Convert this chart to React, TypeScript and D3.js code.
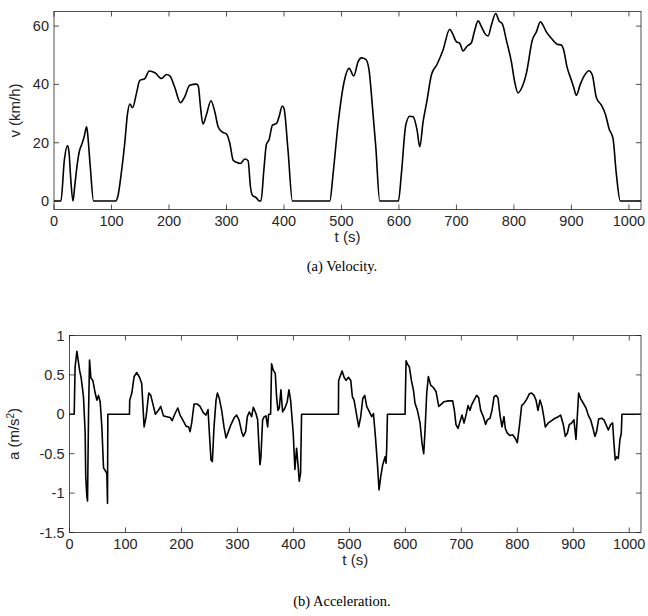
import React from "react";
import * as d3 from "d3";

// velocity profile (t in s, v in km/h)
const velTime = [
  0, 12, 18, 23.6, 26, 29, 33, 36, 40, 44, 49, 53, 56.6, 58, 63, 68.8,
  107, 111.5, 117, 123, 127.9, 132, 136.6, 143.5, 149, 158, 165.6, 175.5, 187, 195.7, 201.5,
  210, 220, 227.5, 236, 248, 251, 254.8, 259, 265, 273, 279.7, 285.5, 292.5, 300, 305.8,
  311.6, 317.4, 324, 332, 337.6, 341.7, 345, 352, 357, 360, 365, 369.5, 374, 380, 387,
  391.5, 397, 400, 407, 414.7,
  479.7, 485.5, 494.2, 504, 513.3, 521.4, 529, 534.7, 542.3, 548, 553.9, 559.7, 566.6,
  599, 604.3, 611.8, 618.8, 624.6, 631.5, 636.2, 642, 648.9, 656.4, 666.3, 676.7, 688.3,
  693, 700, 705.7, 711.5, 718.4, 726, 731.8, 737.6, 743.4, 749.2, 755, 760.7, 768.3, 774,
  780, 786.8, 795.5, 801.3, 807, 813, 821.6, 832, 839, 846, 849.4, 856.4, 865, 875, 882.4,
  886.5, 892.3, 899.8, 903.9, 908.5, 915.5, 923, 930.5, 936.3, 943.3, 952, 959.5, 965.3,
  972.3, 978, 985, 1021,
];
const velKmh = [
  0, 0, 14, 19, 17, 8, 0, 5, 12, 17, 19.8, 22.5, 25.5, 24, 12, 0,
  0, 2, 9.5, 19.8, 30, 33.3, 32, 37, 41.3, 42, 44.6, 44, 42, 43.4, 42.9,
  39, 33.7, 35.8, 39.7, 40.1, 39.4, 32.3, 26.4, 29.5, 34.4, 30.6, 25.5, 23.7, 23, 19.8,
  14, 13.3, 12.9, 14.4, 13.8, 4.9, 2, 1.1, 0, 0, 10.6, 19.5, 21, 26, 26.6,
  28.9, 32.6, 31.8, 17.5, 0,
  0, 9.5, 26.6, 40.3, 45.5, 42.9, 47.8, 49.1, 48.6, 44.9, 32.3, 18.6, 0,
  0, 9.5, 26, 29.1, 28.9, 24.3, 18.6, 27.2, 34.6, 43.2, 46.9, 51.8, 58.9,
  57.5, 54.6, 54.1, 51.5, 53.1, 54.3, 58.6, 61.8, 59.8, 57.5, 56.6, 60.3, 64.3, 61.8,
  60.7, 55.2, 47.8, 40.9, 37.1, 38.6, 43.8, 55.2, 58, 61.5, 60.7, 58, 55.8, 53.8, 53.5,
  51.8, 46, 41.5, 39, 36.3, 40.1, 43.2, 44.7, 43.2, 35.5, 32.9, 29.5, 24.9,
  21.5, 9.5, 0, 0,
];

// acceleration (t in s, a in m/s^2)
const accTime = [
  0, 8.4, 10, 13.2, 18, 20.9, 25, 28, 29, 31, 32.2, 34, 35.8, 38.2, 41.7, 45.9, 48.9,
  51.8, 54.8, 57.8, 60.8, 64.3, 66.7, 67.9, 68.5,
  107.1, 107.6, 111.3, 115.5, 120.2, 125, 129, 133.3, 136.9, 141.6, 145.2, 150, 153.5,
  158.9, 163, 167.8, 173.7, 179.7, 183.3, 188.6, 193.4, 197.5, 202.3, 208.2, 213, 215.4,
  218.3, 222.5, 228.5, 233.2, 239, 243.9, 247.5, 249.9, 252.8, 255.2, 258.2, 261.8, 264.2,
  267.7, 271.9, 276, 279.6, 283.8, 288.5, 294.5, 298.6, 302.8, 307.6, 310.5, 314.7, 317.7,
  321.2, 325.4, 328.4, 333.1, 336.1, 338.5, 340.3, 342, 345, 348, 351, 354, 355.7, 359.3,
  361.1, 364, 367.6, 370, 372.4, 374.8, 377.7, 380.7, 384.9, 389, 392, 395, 399.7, 402.7,
  405.7, 408.7, 410.4, 412.8, 414.6,
  480.4, 480.8, 483.4, 487, 490.6, 494, 498.3, 502.5, 505.4, 508.4, 512, 516.7, 520.3,
  523.9, 527.5, 531, 535.8, 539.9, 543, 546.5, 550, 553, 556, 559.6, 563.8, 565.5, 566.7, 568,
  599.5, 600, 601.3, 603.6, 607.2, 610.8, 614.4, 617.3, 621.5, 626.3, 629.8, 632.8, 635.2,
  638.2, 641.1, 645.3, 650, 654.8, 659.6, 664.4, 669.1, 676.9, 684.6, 687.6, 690.5, 694.1,
  697.7, 701.3, 704.8, 708.4, 712, 715.5, 718.5, 722.7, 727.4, 731, 734.6, 739.3, 743.5,
  746.5, 751.2, 754.8, 758.4, 761.9, 765.5, 769.1, 772.7, 776.2, 778.6, 782.2, 787, 791.7,
  795.9, 800, 803.6, 807.8, 812, 816.7, 821.5, 825.6, 829.8, 833.4, 837, 840.5, 844.1,
  847.7, 850, 855.4, 861.4, 867.3, 873.3, 877.4, 882.2, 885.8, 889.4, 892.9, 897.1, 901.2,
  904.8, 907.2, 909.6, 913.1, 917.9, 922.7, 926.8, 931, 934.6, 938.7, 941.7, 945.3, 950.6,
  954.8, 958.4, 962.6, 966.7, 970.3, 972.7, 975, 977.4, 980.4, 983.4, 985.8, 987, 1021,
];
const accMs2 = [
  0, 0, 0.6, 0.8, 0.56, 0.46, 0.22, -0.24, -0.79, -1.04, -1.1, 0, 0.69, 0.46, 0.43, 0.27, 0.18,
  0.24, 0.16, -0.16, -0.68, -0.72, -0.75, -1.13, 0,
  0, 0.18, 0.27, 0.48, 0.53, 0.47, 0.39, -0.16, -0.03, 0.27, 0.24, 0.1, 0,
  0.05, 0.1, -0.02, -0.03, -0.04, -0.08, 0.01, 0.08, -0.01, -0.07, -0.15, -0.16, -0.22,
  -0.11, 0.13, 0.13, 0.1, 0.02, -0.01, 0.06, -0.24, -0.58, -0.6, -0.16, 0.18, 0.27,
  0.2, 0.05, -0.16, -0.3, -0.22, -0.13, -0.04, -0.01, -0.07, -0.22, -0.28, -0.22, -0.03,
  0.03, -0.03, 0.09, 0.01, -0.07, -0.41, -0.64, -0.54, -0.07, -0.03, -0.02, -0.16, 0, 0,
  0.64, 0.56, 0.52, 0.22, 0.05, 0.08, 0.31, 0.03, 0.08, 0.16, 0.31, 0.18, -0.24, -0.7,
  -0.43, -0.68, -0.85, -0.75, 0,
  0, 0.43, 0.48, 0.55, 0.47, 0.43, 0.47, 0.43, 0.22, 0.18, 0.03, -0.16, -0.03,
  0.2, 0.24, 0.1, 0.03, -0.03, 0.01, -0.28, -0.62, -0.96, -0.79, -0.64, -0.54, -0.62, -0.43, 0,
  0, 0.22, 0.68, 0.64, 0.6, 0.43, 0.31, 0.14, 0.05, -0.11, -0.37, -0.5, -0.2,
  0.27, 0.48, 0.37, 0.34, 0.29, 0.1, 0.13, 0.16, 0.17, 0.17, 0.05, -0.13, -0.18,
  -0.09, -0.01, -0.11, -0.01, 0.11, 0.05, 0.12, 0.18, 0.24, 0.21, 0.05, -0.03, -0.13,
  -0.07, -0.05, 0.05, 0.22, 0.24, 0.21, -0.01, -0.16, -0.03, -0.18, -0.24, -0.27, -0.26,
  -0.3, -0.36, -0.16, 0.11, 0.14, 0.19, 0.26, 0.27, 0.24, 0.18, 0.05, 0.18, 0.1,
  -0.05, -0.16, -0.11, -0.08, -0.05, -0.03, -0.01, -0.13, -0.28, -0.24, -0.13, -0.11, -0.07,
  -0.32, -0.03, 0.27, 0.2, 0.14, 0.08, -0.01, -0.07, -0.16, -0.28, -0.22, -0.06, -0.05,
  -0.07, -0.13, -0.2, -0.13, -0.11, -0.37, -0.58, -0.54, -0.56, -0.32, -0.24, 0, 0,
];

const xTicks = [0, 100, 200, 300, 400, 500, 600, 700, 800, 900, 1000];
const vTicks = [0, 20, 40, 60];
const aTicks = [-1.5, -1, -0.5, 0, 0.5, 1];

const W = 648;
const H = 616;
const axisColor = "#262626";
const sans = "'Liberation Sans', Arial, sans-serif";
const serif = "'Liberation Serif', 'Times New Roman', serif";
const tickLen = 5;

type PanelProps = {
  left: number;
  top: number;
  right: number;
  bottom: number;
  xDomain: [number, number];
  yDomain: [number, number];
  yTicks: number[];
  time: number[];
  values: number[];
  curve: d3.CurveFactory;
  yLabel: React.ReactNode;
  yLabelX: number;
};

const Panel = ({ left, top, right, bottom, xDomain, yDomain, yTicks, time, values, curve, yLabel, yLabelX }: PanelProps) => {
  const x = d3.scaleLinear().domain(xDomain).range([left, right]);
  const y = d3.scaleLinear().domain(yDomain).range([bottom, top]);
  const line = d3
    .line<number>()
    .x((_, i) => x(time[i]))
    .y((d) => y(d))
    .curve(curve);

  return (
    <g>
      <path d={line(values) || ""} fill="none" stroke="#000" strokeWidth={1.6} strokeLinejoin="round" />
      <rect x={left} y={top} width={right - left} height={bottom - top} fill="none" stroke={axisColor} strokeWidth={0.8} />
      {xTicks.map((t) => (
        <g key={`x${t}`}>
          <line x1={x(t)} x2={x(t)} y1={bottom} y2={bottom - tickLen} stroke={axisColor} strokeWidth={0.8} />
          <line x1={x(t)} x2={x(t)} y1={top} y2={top + tickLen} stroke={axisColor} strokeWidth={0.8} />
          <text x={x(t)} y={bottom + 16} textAnchor="middle" fontFamily={sans} fontSize={14.5} fill={axisColor}>
            {t}
          </text>
        </g>
      ))}
      {yTicks.map((t) => (
        <g key={`y${t}`}>
          <line x1={left} x2={left + tickLen} y1={y(t)} y2={y(t)} stroke={axisColor} strokeWidth={0.8} />
          <line x1={right} x2={right - tickLen} y1={y(t)} y2={y(t)} stroke={axisColor} strokeWidth={0.8} />
          <text x={left - 5} y={y(t)} dy="0.35em" textAnchor="end" fontFamily={sans} fontSize={14.5} fill={axisColor}>
            {t}
          </text>
        </g>
      ))}
      <text x={(left + right) / 2} y={bottom + 32} textAnchor="middle" fontFamily={sans} fontSize={15} fill={axisColor}>
        t (s)
      </text>
      <text
        transform={`translate(${yLabelX},${(top + bottom) / 2}) rotate(-90)`}
        textAnchor="middle"
        fontFamily={sans}
        fontSize={15}
        fill={axisColor}
      >
        {yLabel}
      </text>
    </g>
  );
};

export default function App() {
  return (
    <svg width={W} height={H} style={{ position: "absolute", left: 0, top: 0, background: "#fff" }}>
      <Panel
        left={54}
        top={11.5}
        right={641}
        bottom={209.5}
        xDomain={[0, 1021]}
        yDomain={[-2.9, 65]}
        yTicks={vTicks}
        time={velTime}
        values={velKmh}
        curve={d3.curveMonotoneX}
        yLabel="v (km/h)"
        yLabelX={20}
      />
      <text x={342} y={271} textAnchor="middle" fontFamily={serif} fontSize={14.5} fill="#000">
        (a)  Velocity.
      </text>
      <Panel
        left={69.5}
        top={335.5}
        right={641}
        bottom={532.5}
        xDomain={[0, 1021]}
        yDomain={[-1.5, 1]}
        yTicks={aTicks}
        time={accTime}
        values={accMs2}
        curve={d3.curveLinear}
        yLabel={
          <>
            a (m/s<tspan baselineShift="super" fontSize={10}>2</tspan>)
          </>
        }
        yLabelX={19}
      />
      <text x={342} y={606} textAnchor="middle" fontFamily={serif} fontSize={14.5} fill="#000">
        (b)  Acceleration.
      </text>
    </svg>
  );
}
